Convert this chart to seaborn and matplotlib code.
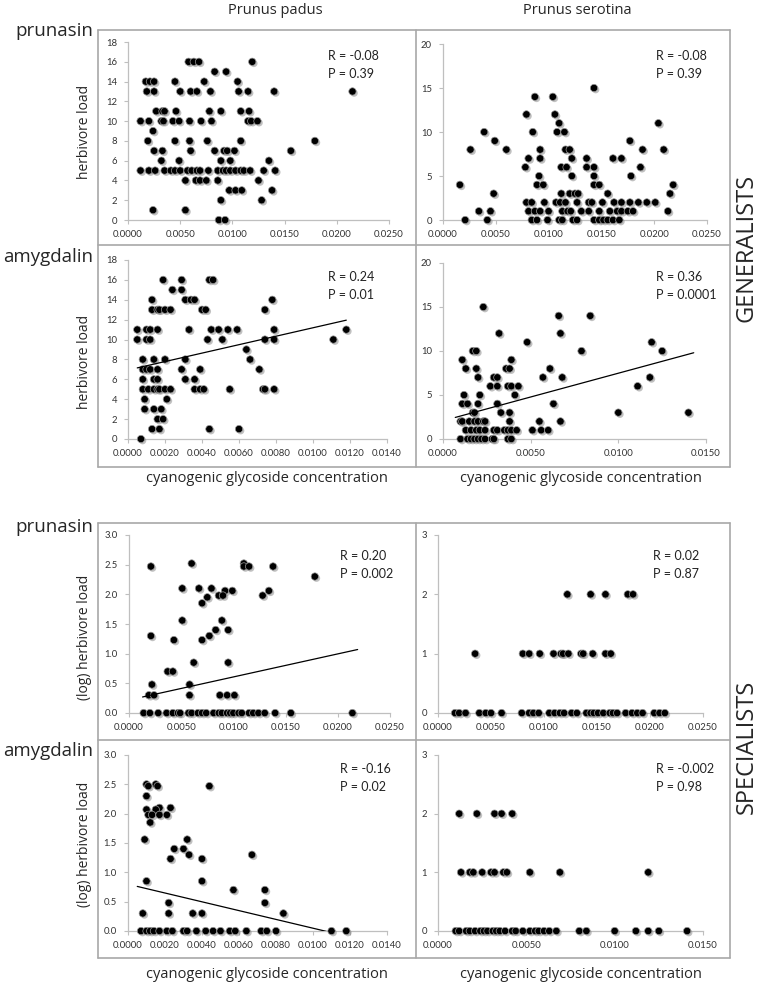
import numpy as np
import pandas as pd
import matplotlib
matplotlib.use("Agg")
import matplotlib.pyplot as plt
import matplotlib.patheffects as pe
from matplotlib.lines import Line2D
import seaborn as sns

W, H = 758, 985

# ---------------- data ----------------
# generalists, Prunus padus, prunasin
padus_pru_gen_x = [
    0.0058, 0.0063, 0.0068, 0.0119,
    0.0083, 0.0094,
    0.0017, 0.0021, 0.0025, 0.0045, 0.0073, 0.0105,
    0.0018, 0.0025, 0.0050, 0.0060, 0.0066, 0.0079, 0.0106, 0.0115, 0.0140, 0.0215,
    0.0027, 0.0033, 0.0035, 0.0046, 0.0078, 0.0089, 0.0108, 0.0116,
    0.0012, 0.0020, 0.0032, 0.0034, 0.0043, 0.0049, 0.0059, 0.0070, 0.0080, 0.0115, 0.0118, 0.0124,
    0.0024,
    0.0019, 0.0045, 0.0059, 0.0076, 0.0108, 0.0179,
    0.0025, 0.0033, 0.0060, 0.0083, 0.0092, 0.0095, 0.0102, 0.0156,
    0.0032, 0.0049, 0.0089, 0.0098, 0.0135,
    0.0012, 0.0020, 0.0026, 0.0035, 0.0041, 0.0045, 0.0050, 0.0057, 0.0061, 0.0066, 0.0069,
    0.0077, 0.0086, 0.0091, 0.0094, 0.0098, 0.0103, 0.0108, 0.0111, 0.0117, 0.0130, 0.0141,
    0.0055, 0.0065, 0.0069, 0.0075, 0.0086, 0.0125,
    0.0097, 0.0103, 0.0109, 0.0138,
    0.0089, 0.0128,
    0.0024, 0.0055,
    0.0087, 0.0093,
]
padus_pru_gen_y = [
    16, 16, 16, 16,
    15, 15,
    14, 14, 14, 14, 14, 14,
    13, 13, 13, 13, 13, 13, 13, 13, 13, 13,
    11, 11, 11, 11, 11, 11, 11, 11,
    10, 10, 10, 10, 10, 10, 10, 10, 10, 10, 10, 10,
    9,
    8, 8, 8, 8, 8, 8,
    7, 7, 7, 7, 7, 7, 7, 7,
    6, 6, 6, 6, 6,
    5, 5, 5, 5, 5, 5, 5, 5, 5, 5, 5,
    5, 5, 5, 5, 5, 5, 5, 5, 5, 5, 5,
    4, 4, 4, 4, 4, 4,
    3, 3, 3, 3,
    2, 2,
    1, 1,
    0, 0,
]

# generalists, Prunus serotina, prunasin
sero_pru_gen_x = [
    0.0143,
    0.0087, 0.0104,
    0.0079, 0.0106,
    0.0110, 0.0204,
    0.0039, 0.0085, 0.0108, 0.0115,
    0.0049, 0.0177,
    0.0026, 0.0060, 0.0092, 0.0116, 0.0120, 0.0189, 0.0209,
    0.0081, 0.0092, 0.0122, 0.0136, 0.0161, 0.0169,
    0.0078, 0.0112, 0.0117, 0.0136, 0.0143, 0.0187,
    0.0091, 0.0122, 0.0143, 0.0178,
    0.0016, 0.0089, 0.0095, 0.0143, 0.0148, 0.0218,
    0.0048, 0.0112, 0.0120, 0.0125, 0.0128, 0.0156, 0.0215,
    0.0079, 0.0084, 0.0096, 0.0107, 0.0111, 0.0116, 0.0127, 0.0138,
    0.0141, 0.0151, 0.0162, 0.0169, 0.0177, 0.0185, 0.0193, 0.0201,
    0.0034, 0.0045, 0.0081, 0.0087, 0.0092, 0.0100, 0.0113, 0.0118, 0.0121,
    0.0131, 0.0138, 0.0148, 0.0158, 0.0165, 0.0169, 0.0175, 0.0180, 0.0213,
    0.0021, 0.0042, 0.0084, 0.0089, 0.0099, 0.0110, 0.0113, 0.0123,
    0.0127, 0.0143, 0.0148, 0.0152, 0.0156, 0.0161, 0.0167,
]
sero_pru_gen_y = [
    15,
    14, 14,
    12, 12,
    11, 11,
    10, 10, 10, 10,
    9, 9,
    8, 8, 8, 8, 8, 8, 8,
    7, 7, 7, 7, 7, 7,
    6, 6, 6, 6, 6, 6,
    5, 5, 5, 5,
    4, 4, 4, 4, 4, 4,
    3, 3, 3, 3, 3, 3, 3,
    2, 2, 2, 2, 2, 2, 2, 2,
    2, 2, 2, 2, 2, 2, 2, 2,
    1, 1, 1, 1, 1, 1, 1, 1, 1,
    1, 1, 1, 1, 1, 1, 1, 1, 1,
    0, 0, 0, 0, 0, 0, 0, 0,
    0, 0, 0, 0, 0, 0, 0,
]

# generalists, Prunus padus, amygdalin
padus_amy_gen_x = [
    0.0019, 0.0029, 0.0044, 0.0046,
    0.0024, 0.0029,
    0.0013, 0.0031, 0.0034, 0.0036, 0.0078,
    0.0013, 0.0016, 0.0017, 0.0020, 0.0023, 0.0040, 0.0042, 0.0074,
    0.0005, 0.0010, 0.0012, 0.0016, 0.0033, 0.0045, 0.0049, 0.0054, 0.0059, 0.0079, 0.0118,
    0.0005, 0.0010, 0.0012, 0.0043, 0.0051, 0.0074, 0.0079, 0.0111,
    0.0064,
    0.0008, 0.0014, 0.0020, 0.0031, 0.0066,
    0.0008, 0.0010, 0.0012, 0.0016, 0.0029, 0.0039, 0.0071,
    0.0008, 0.0014, 0.0016, 0.0031, 0.0036,
    0.0008, 0.0011, 0.0014, 0.0016, 0.0017, 0.0020, 0.0023,
    0.0036, 0.0039, 0.0041, 0.0055, 0.0073, 0.0074, 0.0079,
    0.0009, 0.0021,
    0.0009, 0.0014, 0.0018,
    0.0016, 0.0019,
    0.0013, 0.0017, 0.0044, 0.0060,
    0.0007,
]
padus_amy_gen_y = [
    16, 16, 16, 16,
    15, 15,
    14, 14, 14, 14, 14,
    13, 13, 13, 13, 13, 13, 13, 13,
    11, 11, 11, 11, 11, 11, 11, 11, 11, 11, 11,
    10, 10, 10, 10, 10, 10, 10, 10,
    9,
    8, 8, 8, 8, 8,
    7, 7, 7, 7, 7, 7, 7,
    6, 6, 6, 6, 6,
    5, 5, 5, 5, 5, 5, 5,
    5, 5, 5, 5, 5, 5, 5,
    4, 4,
    3, 3, 3,
    2, 2,
    1, 1, 1, 1,
    0,
]
padus_amy_gen_fit_x = [0.0005, 0.0118]
padus_amy_gen_fit_y = [7.15, 11.95]

# generalists, Prunus serotina, amygdalin
sero_amy_gen_x = [
    0.0023,
    0.0066, 0.0084,
    0.0032, 0.0067,
    0.0048, 0.0119,
    0.0017, 0.0019, 0.0079, 0.0125,
    0.0011, 0.0039,
    0.0013, 0.0019, 0.0036, 0.0038, 0.0061,
    0.0020, 0.0029, 0.0031, 0.0057, 0.0068, 0.0118,
    0.0027, 0.0031, 0.0037, 0.0039, 0.0043, 0.0111,
    0.0012, 0.0021, 0.0041,
    0.0011, 0.0014, 0.0020, 0.0031, 0.0063,
    0.0017, 0.0018, 0.0033, 0.0038, 0.0100, 0.0140,
    0.0010, 0.0011, 0.0015, 0.0018, 0.0020, 0.0023, 0.0024, 0.0038, 0.0055, 0.0067,
    0.0013, 0.0016, 0.0019, 0.0021, 0.0024, 0.0029, 0.0031,
    0.0035, 0.0037, 0.0039, 0.0042, 0.0051, 0.0056, 0.0060,
    0.0010, 0.0014, 0.0016, 0.0018, 0.0020, 0.0022, 0.0024, 0.0028, 0.0029, 0.0037, 0.0039,
]
sero_amy_gen_y = [
    15,
    14, 14,
    12, 12,
    11, 11,
    10, 10, 10, 10,
    9, 9,
    8, 8, 8, 8, 8,
    7, 7, 7, 7, 7, 7,
    6, 6, 6, 6, 6, 6,
    5, 5, 5,
    4, 4, 4, 4, 4,
    3, 3, 3, 3, 3, 3,
    2, 2, 2, 2, 2, 2, 2, 2, 2, 2,
    1, 1, 1, 1, 1, 1, 1,
    1, 1, 1, 1, 1, 1, 1,
    0, 0, 0, 0, 0, 0, 0, 0, 0, 0, 0,
]
sero_amy_gen_fit_x = [0.0007, 0.0143]
sero_amy_gen_fit_y = [2.45, 9.8]

# specialists, Prunus padus, prunasin (log)
padus_pru_spe_x = [
    0.0060, 0.0110,
    0.0021, 0.0110, 0.0115, 0.0138,
    0.0178,
    0.0051, 0.0067, 0.0079,
    0.0092, 0.0099, 0.0134,
    0.0086, 0.0090, 0.0128,
    0.0075,
    0.0070,
    0.0051, 0.0089,
    0.0083, 0.0095,
    0.0021, 0.0077,
    0.0043, 0.0070,
    0.0062, 0.0095,
    0.0037, 0.0042,
    0.0022, 0.0058,
    0.0019, 0.0024, 0.0058, 0.0087, 0.0094, 0.0101,
    0.0014, 0.0020, 0.0028, 0.0036, 0.0042, 0.0047, 0.0049, 0.0057, 0.0060,
    0.0066, 0.0070, 0.0074, 0.0081, 0.0086, 0.0089, 0.0094, 0.0097, 0.0100,
    0.0105, 0.0108, 0.0115, 0.0119, 0.0124, 0.0130, 0.0140, 0.0155, 0.0214,
]
padus_pru_spe_y = [
    2.52, 2.52,
    2.47, 2.47, 2.47, 2.47,
    2.30,
    2.10, 2.10, 2.10,
    2.06, 2.06, 2.06,
    1.98, 1.98, 1.98,
    1.95,
    1.85,
    1.56, 1.56,
    1.40, 1.40,
    1.30, 1.30,
    1.23, 1.23,
    0.85, 0.85,
    0.70, 0.70,
    0.48, 0.48,
    0.30, 0.30, 0.30, 0.30, 0.30, 0.30,
    0, 0, 0, 0, 0, 0, 0, 0, 0,
    0, 0, 0, 0, 0, 0, 0, 0, 0,
    0, 0, 0, 0, 0, 0, 0, 0, 0,
]
padus_pru_spe_fit_x = [0.0013, 0.0219]
padus_pru_spe_fit_y = [0.27, 1.07]

# specialists, Prunus serotina, prunasin
sero_pru_spe_x = [
    0.0122, 0.0144, 0.0158, 0.0179, 0.0184,
    0.0035, 0.0080, 0.0086, 0.0096, 0.0109, 0.0116, 0.0118,
    0.0123, 0.0135, 0.0137, 0.0146, 0.0158, 0.0163,
    0.0016, 0.0020, 0.0026, 0.0039, 0.0045, 0.0050, 0.0060, 0.0079,
    0.0086, 0.0090, 0.0095, 0.0105, 0.0110, 0.0115, 0.0119, 0.0126,
    0.0131, 0.0140, 0.0144, 0.0147, 0.0151, 0.0156, 0.0162, 0.0165,
    0.0169, 0.0177, 0.0183, 0.0188, 0.0193, 0.0204, 0.0209, 0.0214,
]
sero_pru_spe_y = [
    2, 2, 2, 2, 2,
    1, 1, 1, 1, 1, 1, 1,
    1, 1, 1, 1, 1, 1,
    0, 0, 0, 0, 0, 0, 0, 0,
    0, 0, 0, 0, 0, 0, 0, 0,
    0, 0, 0, 0, 0, 0, 0, 0,
    0, 0, 0, 0, 0, 0, 0, 0,
]

# specialists, Prunus padus, amygdalin (log)
padus_amy_spe_x = [
    0.0010, 0.0015,
    0.0011, 0.0016, 0.0044,
    0.0010,
    0.0017, 0.0023,
    0.0010, 0.0015,
    0.0011, 0.0013, 0.0017, 0.0021,
    0.0012,
    0.0009, 0.0032,
    0.0025, 0.0030,
    0.0033, 0.0067,
    0.0023, 0.0040,
    0.0010, 0.0040,
    0.0057, 0.0074,
    0.0022, 0.0074,
    0.0008, 0.0022, 0.0035, 0.0040, 0.0084,
    0.0007, 0.0010, 0.0012, 0.0014, 0.0017, 0.0021, 0.0024,
    0.0030, 0.0032, 0.0037, 0.0042, 0.0046, 0.0050, 0.0055,
    0.0058, 0.0064, 0.0072, 0.0075, 0.0080, 0.0110, 0.0118,
]
padus_amy_spe_y = [
    2.50, 2.50,
    2.47, 2.47, 2.47,
    2.30,
    2.10, 2.10,
    2.07, 2.07,
    1.98, 1.98, 1.98, 1.98,
    1.85,
    1.56, 1.56,
    1.40, 1.40,
    1.30, 1.30,
    1.23, 1.23,
    0.85, 0.85,
    0.70, 0.70,
    0.48, 0.48,
    0.30, 0.30, 0.30, 0.30, 0.30,
    0, 0, 0, 0, 0, 0, 0,
    0, 0, 0, 0, 0, 0, 0,
    0, 0, 0, 0, 0, 0, 0,
]
padus_amy_spe_fit_x = [0.0005, 0.0117]
padus_amy_spe_fit_y = [0.76, -0.08]

# specialists, Prunus serotina, amygdalin
sero_amy_spe_x = [
    0.0012, 0.0022, 0.0032, 0.0036, 0.0042,
    0.0013, 0.0018, 0.0020, 0.0025, 0.0030, 0.0032,
    0.0037, 0.0039, 0.0052, 0.0069, 0.0119,
    0.0010, 0.0012, 0.0016, 0.0018, 0.0021, 0.0024, 0.0026,
    0.0028, 0.0031, 0.0033, 0.0035, 0.0038, 0.0042, 0.0044,
    0.0048, 0.0052, 0.0055, 0.0057, 0.0060, 0.0063, 0.0067,
    0.0080, 0.0084, 0.0100, 0.0112, 0.0119, 0.0125, 0.0141,
]
sero_amy_spe_y = [
    2, 2, 2, 2, 2,
    1, 1, 1, 1, 1, 1,
    1, 1, 1, 1, 1,
    0, 0, 0, 0, 0, 0, 0,
    0, 0, 0, 0, 0, 0, 0,
    0, 0, 0, 0, 0, 0, 0,
    0, 0, 0, 0, 0, 0, 0,
]

# axis ticks
x_ticks_wide = [0.0, 0.005, 0.010, 0.015, 0.020, 0.025]
x_ticks_amy_padus = [0.0, 0.002, 0.004, 0.006, 0.008, 0.010, 0.012, 0.014]
x_ticks_amy_sero = [0.0, 0.005, 0.010, 0.015]
y_ticks_18 = [0, 2, 4, 6, 8, 10, 12, 14, 16, 18]
y_ticks_20 = [0, 5, 10, 15, 20]
y_ticks_log = [0.0, 0.5, 1.0, 1.5, 2.0, 2.5, 3.0]
y_ticks_3 = [0, 1, 2, 3]

stats = {
    "padus_pru_gen": ("R = -0.08", "P = 0.39"),
    "sero_pru_gen": ("R = -0.08", "P = 0.39"),
    "padus_amy_gen": ("R = 0.24", "P = 0.01"),
    "sero_amy_gen": ("R = 0.36", "P = 0.0001"),
    "padus_pru_spe": ("R = 0.20", "P = 0.002"),
    "sero_pru_spe": ("R = 0.02", "P = 0.87"),
    "padus_amy_spe": ("R = -0.16", "P = 0.02"),
    "sero_amy_spe": ("R = -0.002", "P = 0.98"),
}

# ---------------- drawing ----------------
sns.set_style("ticks")
plt.rcParams["font.family"] = ["Open Sans", "DejaVu Sans"]

fig = plt.figure(figsize=(W / 100, H / 100), dpi=100)

GRAY = "#a8a8a8"
AXIS_GRAY = "#bfbfbf"
TICK_FONT = ["Lato", "DejaVu Sans"]


def fx(px):
    return px / W


def fy(py):
    return 1 - py / H


def panel(key, rect, x, y, xticks, yticks, xfmt, yfmt, rp_pos, fit=None):
    l, t, r, b = rect
    ax = fig.add_axes([fx(l), fy(b), (r - l) / W, (b - t) / H])
    df = pd.DataFrame({"conc": x, "load": y})
    sns.scatterplot(data=df, x="conc", y="load", ax=ax, color="black", s=28,
                    edgecolor="#9a9a9a", linewidth=0.5, clip_on=False, zorder=3)
    ax.collections[-1].set_path_effects([
        pe.SimplePatchShadow(offset=(1.2, -1.2), shadow_rgbFace="#777777", alpha=0.45),
        pe.Normal(),
    ])
    if fit is not None:
        sns.lineplot(x=fit[0], y=fit[1], ax=ax, color="black", linewidth=0.9, zorder=4)
    ax.set_xlim(xticks[0], xticks[-1])
    ax.set_ylim(yticks[0], yticks[-1])
    ax.set_xticks(xticks)
    ax.set_xticklabels([xfmt.format(v) for v in xticks], fontfamily=TICK_FONT)
    ax.set_yticks(yticks)
    ax.set_yticklabels([yfmt.format(v) for v in yticks], fontfamily=TICK_FONT)
    ax.set_xlabel("")
    ax.set_ylabel("")
    sns.despine(ax=ax)
    for s in ("left", "bottom"):
        ax.spines[s].set_color(AXIS_GRAY)
        ax.spines[s].set_linewidth(0.9)
    ax.tick_params(axis="both", length=3, width=0.8, color=AXIS_GRAY,
                   labelsize=6.8, labelcolor="#333333")
    ax.tick_params(axis="y", pad=5)
    ax.tick_params(axis="x", pad=4)
    ax.patch.set_alpha(0)
    rtxt, ptxt = stats[key]
    fig.text(fx(rp_pos[0]), fy(rp_pos[1]), rtxt, fontsize=9, va="center",
             ha="left", family=TICK_FONT, color="#222222")
    fig.text(fx(rp_pos[0]), fy(rp_pos[1] + 18), ptxt, fontsize=9, va="center",
             ha="left", family=TICK_FONT, color="#222222")
    return ax


panel("padus_pru_gen", (128, 42, 389, 220), padus_pru_gen_x, padus_pru_gen_y,
      x_ticks_wide, y_ticks_18, "{:.4f}", "{:.0f}", (328, 56))
panel("sero_pru_gen", (443, 44, 707, 220), sero_pru_gen_x, sero_pru_gen_y,
      x_ticks_wide, y_ticks_20, "{:.4f}", "{:.0f}", (656, 56))
panel("padus_amy_gen", (128, 260, 387, 439), padus_amy_gen_x, padus_amy_gen_y,
      x_ticks_amy_padus, y_ticks_18, "{:.4f}", "{:.0f}", (328, 277),
      fit=(padus_amy_gen_fit_x, padus_amy_gen_fit_y))
panel("sero_amy_gen", (443, 263, 706, 439), sero_amy_gen_x, sero_amy_gen_y,
      x_ticks_amy_sero, y_ticks_20, "{:.4f}", "{:.0f}", (656, 277),
      fit=(sero_amy_gen_fit_x, sero_amy_gen_fit_y))
panel("padus_pru_spe", (129, 535, 390, 713), padus_pru_spe_x, padus_pru_spe_y,
      x_ticks_wide, y_ticks_log, "{:.4f}", "{:.1f}", (340, 556),
      fit=(padus_pru_spe_fit_x, padus_pru_spe_fit_y))
panel("sero_pru_spe", (438, 535, 703, 713), sero_pru_spe_x, sero_pru_spe_y,
      x_ticks_wide, y_ticks_3, "{:.4f}", "{:.0f}", (653, 556))
panel("padus_amy_spe", (128, 755, 387, 931), padus_amy_spe_x, padus_amy_spe_y,
      x_ticks_amy_padus, y_ticks_log, "{:.4f}", "{:.1f}", (340, 769),
      fit=(padus_amy_spe_fit_x, padus_amy_spe_fit_y))
panel("sero_amy_spe", (438, 755, 703, 931), sero_amy_spe_x, sero_amy_spe_y,
      x_ticks_amy_sero, y_ticks_3, "{:.4f}", "{:.0f}", (656, 769))

# grey frames around the two panel groups
for top, mid, bot in [(30, 245, 467), (523, 740, 958)]:
    segs = [
        ((98, 730), (top, top)), ((98, 730), (bot, bot)), ((98, 730), (mid, mid)),
        ((98, 98), (top, bot)), ((730, 730), (top, bot)), ((416, 416), (top, bot)),
    ]
    for xs, ys in segs:
        fig.add_artist(Line2D([fx(v) for v in xs], [fy(v) for v in ys],
                              color=GRAY, linewidth=1.2))

# column headers
fig.text(fx(275), fy(10), "Prunus padus", fontsize=10.5, ha="center", va="center")
fig.text(fx(577), fy(10), "Prunus serotina", fontsize=10.5, ha="center", va="center")

# row labels
for label, base in [("prunasin", 36), ("amygdalin", 262), ("prunasin", 532), ("amygdalin", 756)]:
    fig.text(fx(93), fy(base), label, fontsize=13.5, ha="right", va="baseline")

for label, cy in [("herbivore load", 132), ("herbivore load", 362),
                  ("(log) herbivore load", 637), ("(log) herbivore load", 844)]:
    fig.text(fx(84), fy(cy), label, fontsize=10, rotation=90, ha="center", va="center")

for cy in (478, 975):
    fig.text(fx(267), fy(cy), "cyanogenic glycoside concentration", fontsize=10.5,
             ha="center", va="center")
    fig.text(fx(581), fy(cy), "cyanogenic glycoside concentration", fontsize=10.5,
             ha="center", va="center")

fig.text(fx(747), fy(248), "GENERALISTS", fontsize=17, rotation=90, ha="center", va="center")
fig.text(fx(747), fy(747), "SPECIALISTS", fontsize=17, rotation=90, ha="center", va="center")

fig.savefig("out.png", dpi=100)
